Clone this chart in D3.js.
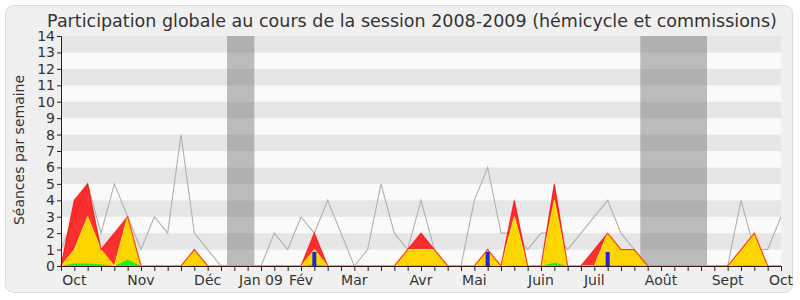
<!DOCTYPE html>
<meta charset="utf-8">
<style>
  body {
    margin: 0;
    background: #fff;
  }

  text {
    font-family: "DejaVu Sans", sans-serif;
    fill: #333;
  }
</style>

<body>
  <svg width="800" height="300"></svg>

  <script src="https://d3js.org/d3.v7.min.js"></script>
  <script>
    // one value per week, from the first week of the session (index 0) to index 54
    var presence = [0, 4, 5, 1, 2, 3, 0, 0, 0, 0, 1, 0, 0, 0, 0, 0, 0, 0, 0, 2,
      0, 0, 0, 0, 0, 0, 1, 2, 1, 0, 0, 0, 1, 0, 4, 0, 0, 5, 0, 0,
      1, 2, 1, 1, 0, 0, 0, 0, 0, 0, 0, 1, 2, 0, 0];
    var hemicycle = [0, 1, 3, 1, 0, 3, 0, 0, 0, 0, 1, 0, 0, 0, 0, 0, 0, 0, 0, 1,
      0, 0, 0, 0, 0, 0, 1, 1, 1, 0, 0, 0, 1, 0, 3, 0, 0, 4, 0, 0,
      0, 2, 1, 1, 0, 0, 0, 0, 0, 0, 0, 1, 2, 0, 0];
    var participation = [0, 0.15, 0.15, 0.1, 0, 0.4, 0, 0, 0, 0, 0.05, 0, 0, 0, 0, 0, 0, 0, 0, 0.1,
      0, 0, 0, 0, 0, 0, 0.05, 0.05, 0.05, 0, 0, 0, 0.05, 0, 0.05, 0, 0, 0.2, 0, 0,
      0.05, 0.05, 0.05, 0.05, 0, 0, 0, 0, 0, 0, 0, 0.05, 0.05, 0, 0];
    var interventions = [0, 0, 0, 0, 0, 0, 0, 0, 0, 0, 0, 0, 0, 0, 0, 0, 0, 0, 0, 0.85,
      0, 0, 0, 0, 0, 0, 0, 0, 0, 0, 0, 0, 0.85, 0, 0, 0, 0, 0, 0, 0,
      0, 0.85, 0, 0, 0, 0, 0, 0, 0, 0, 0, 0, 0, 0, 0];
    var mediane = [1, 3, 5, 2, 5, 3, 1, 3, 2, 8, 2, 1, 0, 0, 0, 0, 2, 1, 3, 2,
      4, 2, 0, 1, 5, 2, 1, 4, 1, 0, 0, 4, 6, 2, 2, 1, 2, 2, 1, 2,
      3, 4, 2, 1, 0, 0, 0, 0, 0, 0, 0, 4, 1, 1, 3];

    var vacances = [[12.45, 14.5], [43.45, 48.45]];

    var mois = ["Oct", "Nov", "Déc", "Jan 09", "Fév", "Mar", "Avr", "Mai", "Juin", "Juil", "Août", "Sept", "Oct"];
    var moisSemaine = [1, 6, 11, 15, 18, 22, 27, 31, 36, 40, 45, 50, 54];

    var svg = d3.select("svg");

    svg.append("rect")
      .attr("x", 5.5).attr("y", 5.5)
      .attr("width", 787).attr("height", 287)
      .attr("rx", 8)
      .attr("fill", "#f0f0f0")
      .attr("stroke", "#dcdcdc");

    var xScale = d3.scaleLinear().domain([0, 54]).range([61, 781]);
    var yScale = d3.scaleLinear().domain([0, 14]).range([266, 36]);

    // background stripes
    svg.selectAll(".stripe")
      .data(d3.range(14))
      .enter().append("rect")
      .attr("class", "stripe")
      .attr("x", xScale(0))
      .attr("width", xScale(54) - xScale(0))
      .attr("y", function(d) { return yScale(d + 1) })
      .attr("height", function(d) { return yScale(d) - yScale(d + 1) })
      .attr("fill", function(d) { return d % 2 ? "#e6e6e6" : "#fafafa" });

    svg.selectAll(".vac")
      .data(vacances)
      .enter().append("rect")
      .attr("class", "vac")
      .attr("x", function(d) { return xScale(d[0]) })
      .attr("width", function(d) { return xScale(d[1]) - xScale(d[0]) })
      .attr("y", yScale(14))
      .attr("height", yScale(0) - yScale(14))
      .attr("fill", "rgba(110,110,110,0.45)");

    var line = d3.line()
      .x(function(d, i) { return xScale(i) })
      .y(function(d) { return yScale(d) });

    var area = d3.area()
      .x(function(d, i) { return xScale(i) })
      .y0(yScale(0))
      .y1(function(d) { return yScale(d) });

    svg.append("path")
      .datum(mediane)
      .attr("d", line)
      .attr("fill", "none")
      .attr("stroke", "#b0b0b0")
      .attr("stroke-width", 1.1);

    svg.append("path")
      .datum(presence)
      .attr("d", area)
      .attr("fill", "rgba(255,0,0,0.8)");

    svg.append("path")
      .datum(hemicycle)
      .attr("d", area)
      .attr("fill", "#ffd500")
      .attr("stroke", "#ffee22")
      .attr("stroke-width", 1);

    svg.append("path")
      .datum(presence)
      .attr("d", line)
      .attr("fill", "none")
      .attr("stroke", "rgba(255,0,0,0.7)")
      .attr("stroke-width", 1.2);

    svg.append("path")
      .datum(participation)
      .attr("d", area)
      .attr("fill", "#22ee22");

    svg.selectAll(".interv")
      .data(interventions)
      .enter().append("rect")
      .attr("class", "interv")
      .attr("x", function(d, i) { return xScale(i) - 2 })
      .attr("width", 4)
      .attr("y", function(d) { return yScale(d) })
      .attr("height", function(d) { return yScale(0) - yScale(d) })
      .attr("fill", "#2222dd");

    // axes
    var yAxis = svg.append("g")
      .attr("transform", "translate(" + xScale(0) + ",0)")
      .call(d3.axisLeft(yScale).tickValues(d3.range(15)).tickSize(4).tickPadding(2));

    var xAxis = svg.append("g")
      .attr("transform", "translate(0," + yScale(0) + ")")
      .call(d3.axisBottom(xScale).tickValues(d3.range(55)).tickSize(5).tickFormat(""));

    yAxis.selectAll("text").style("font-size", "14px").attr("fill", "#333");
    svg.selectAll(".domain, .tick line").attr("stroke", "#222");
    xAxis.select(".domain").attr("stroke", "#3a1a10");

    svg.selectAll(".mois")
      .data(mois)
      .enter().append("text")
      .attr("class", "mois")
      .attr("x", function(d, i) { return xScale(moisSemaine[i]) })
      .attr("y", 285)
      .style("text-anchor", "middle")
      .style("font-size", "14px")
      .text(function(d) { return d });

    svg.append("text")
      .attr("transform", "translate(24,150) rotate(-90)")
      .style("text-anchor", "middle")
      .style("font-size", "14px")
      .text("Séances par semaine");

    svg.append("text")
      .attr("x", 412)
      .attr("y", 27)
      .style("text-anchor", "middle")
      .style("font-size", "17.5px")
      .text("Participation globale au cours de la session 2008-2009 (hémicycle et commissions)");
  </script>
</body>
